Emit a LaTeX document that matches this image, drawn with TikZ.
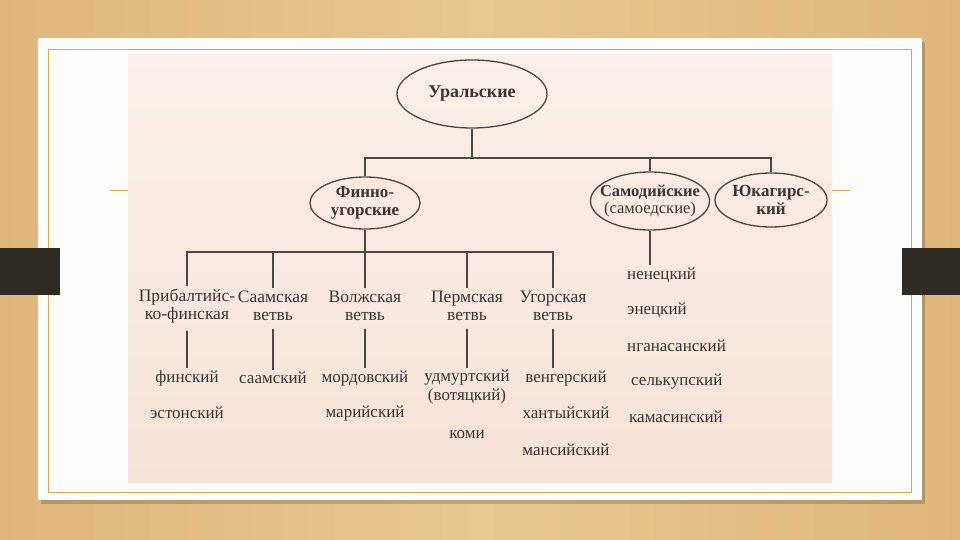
\documentclass[tikz,border=0pt]{standalone}
\usepackage{fontspec}
\setmainfont{Liberation Serif}
\usetikzlibrary{shapes.geometric}
\definecolor{wood}{HTML}{E8C890}
\definecolor{wooddark}{HTML}{DFB67A}
\definecolor{framewhite}{HTML}{FDFDFB}
\definecolor{goldline}{HTML}{D8A84E}
\definecolor{pinkbg}{HTML}{F6E3D8}
\definecolor{pinklight}{HTML}{FAEFE9}
\definecolor{ink}{HTML}{3C3434}
\definecolor{linec}{HTML}{4E4646}
\definecolor{darkbar}{HTML}{2F2A24}
\tikzset{
  lab/.style={font=\fontsize{17.5}{18}\selectfont, text=ink, align=center, inner sep=3pt},
  leaf/.style={font=\fontsize{17}{18}\selectfont, text=ink, inner sep=2pt},
  oval/.style={ellipse, draw=linec, line width=1.3pt, inner sep=0pt},
  ovtext/.style={text=ink, inner sep=0pt, align=center, font=\bfseries\fontsize{17}{17.5}\selectfont},
  conn/.style={draw=linec, line width=1.5pt}
}
\begin{document}
\begin{tikzpicture}[x=1pt,y=-1pt]
\useasboundingbox (0,0) rectangle (960,540);
% wood background
\shade[left color=wooddark, right color=wood] (0,0) rectangle (480,540);
\shade[left color=wood, right color=wooddark] (480,0) rectangle (960,540);
% shadow and white frame
\fill[black, opacity=0.18] (41,42) rectangle (925,504);
\fill[framewhite] (38,38) rectangle (922,500);
\draw[goldline, line width=0.8pt] (48,49) rectangle (911,492);
% side bars
\fill[darkbar] (0,248) rectangle (60,295);
\fill[darkbar] (902,248) rectangle (960,295);
% small accent lines
\draw[goldline, line width=0.8pt] (110,190) -- (128,190);
\draw[goldline, line width=0.8pt] (832,190) -- (850,190);
% pink picture
\shade[top color=pinklight, bottom color=pinkbg] (128,55) rectangle (832,482);

% top level ovals
\node[oval, minimum width=150pt, minimum height=68pt] (ural) at (472,94) {};
\node[ovtext, font=\bfseries\fontsize{18}{18}\selectfont] (uralt) at (ural) {Уральские};
\node[oval, minimum width=110pt, minimum height=52pt] (fu) at (365,203) {};
\node[ovtext] (fut) at (fu) {Финно-\\угорские};
\node[oval, minimum width=119pt, minimum height=58pt] (sam) at (650,201) {};
\node[ovtext, font=\fontsize{16.5}{17.5}\selectfont] (samt) at (sam) {\textbf{Самодийские}\\(самоедские)};
\node[oval, minimum width=112pt, minimum height=54pt] (yuk) at (771,200) {};
\node[ovtext] (yukt) at (yuk) {Юкагирс-\\кий};

\coordinate (busA) at (472,158);
\draw[conn] (ural.south) -- (busA);
\draw[conn] (fu.north) -- (fu.north |- busA) -- (yuk.north |- busA) -- (yuk.north);
\draw[conn] (sam.north) -- (sam.north |- busA);

% branches
\node[lab] (pb) at (187,306) {Прибалтийс-\\ко-финская};
\node[lab] (sa) at (273,306) {Саамская\\ветвь};
\node[lab] (vo) at (365,306) {Волжская\\ветвь};
\node[lab] (pe) at (467,306) {Пермская\\ветвь};
\node[lab] (ug) at (553,306) {Угорская\\ветвь};

\coordinate (busB) at (365,252);
\draw[conn] (fu.south) -- (vo.north);
\draw[conn] (pb.north) -- (pb.north |- busB) -- (ug.north |- busB) -- (ug.north);
\draw[conn] (sa.north) -- (sa.north |- busB);
\draw[conn] (pe.north) -- (pe.north |- busB);

% leaves
\node[leaf] (fin) at (187,378) {финский};
\node[leaf] (est) at (187,413) {эстонский};
\node[leaf] (saa) at (273,378) {саамский};
\node[leaf] (mor) at (365,378) {мордовский};
\node[leaf] (mar) at (365,413) {марийский};
\node[leaf, align=center, font=\fontsize{17}{19}\selectfont] (udm) at (467,387) {удмуртский\\(вотяцкий)};
\node[leaf] (kom) at (467,435) {коми};
\node[leaf] (ven) at (566,378) {венгерский};
\node[leaf] (han) at (566,413) {хантыйский};
\node[leaf] (man) at (566,450) {мансийский};

\draw[conn, shorten <=5pt] (pb.south) -- (pb.south |- fin.north);
\draw[conn, shorten <=5pt] (sa.south) -- (sa.south |- saa.north);
\draw[conn, shorten <=5pt] (vo.south) -- (vo.south |- mor.north);
\draw[conn, shorten <=5pt] (pe.south) -- (pe.south |- udm.north);
\draw[conn, shorten <=5pt] (ug.south) -- (ug.south |- ven.north);

% samoyed
\node[leaf, anchor=west] (nen) at (625,275) {ненецкий};
\node[leaf, anchor=west] (ene) at (625,310) {энецкий};
\node[leaf, anchor=west] (nga) at (625,346) {нганасанский};
\node[leaf, anchor=west] (sel) at (629,382) {селькупский};
\node[leaf, anchor=west] (kam) at (627,417) {камасинский};
\draw[conn] (sam.south) -- (sam.south |- nen.north);
\end{tikzpicture}
\end{document}
